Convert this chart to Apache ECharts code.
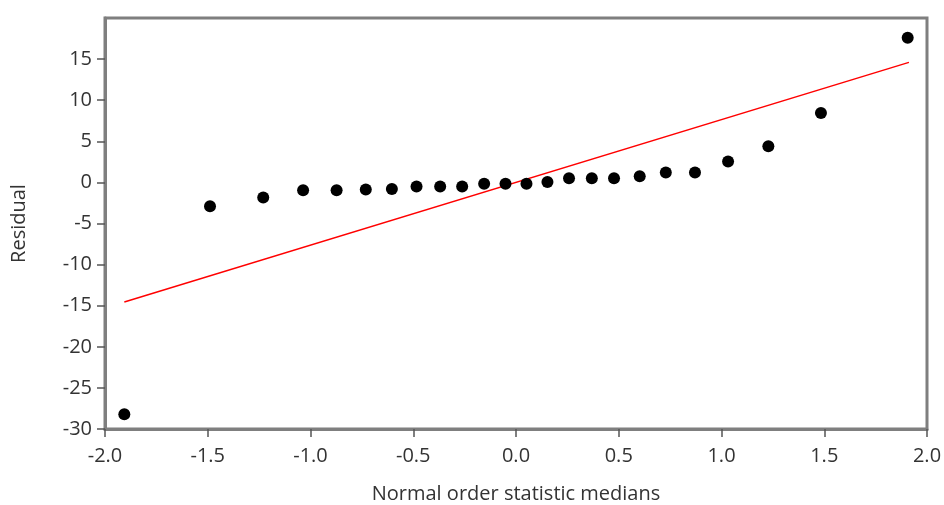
<!DOCTYPE html>
<html>
<head>
<meta charset="utf-8">
<script src="https://cdn.jsdelivr.net/npm/echarts@6/dist/echarts.min.js"></script>
<style>html,body{margin:0;padding:0;background:#fff}#c{width:944px;height:505px}</style>
</head>
<body>
<div id="c"></div>
<script>
const xMedians = [-1.906, -1.489, -1.230, -1.036, -0.873, -0.731, -0.604, -0.484, -0.369, -0.262, -0.155, -0.051,
                  0.051, 0.153, 0.258, 0.369, 0.477, 0.602, 0.729, 0.871, 1.032, 1.228, 1.484, 1.906];
const residuals = [-28.2, -2.9, -1.85, -0.95, -0.95, -0.85, -0.8, -0.5, -0.5, -0.5, -0.15, -0.15,
                   -0.15, 0.05, 0.5, 0.5, 0.5, 0.75, 1.2, 1.2, 2.55, 4.4, 8.45, 17.6];
const fitX = [-1.906, 1.912];
const fitY = [-14.55, 14.6];
const xTicks = [-2.0, -1.5, -1.0, -0.5, 0.0, 0.5, 1.0, 1.5, 2.0];
const yTicks = [-30, -25, -20, -15, -10, -5, 0, 5, 10, 15];

const font = "'Open Sans', 'Noto Sans', sans-serif";
const axisColor = '#7f7f7f';
const textColor = '#333';
const fs = 20;
const chart = echarts.init(document.getElementById('c'), null, {renderer: 'canvas'});
chart.setOption({
  animation: false,
  backgroundColor: '#fff',
  grid: {left: 105, right: 17, top: 18, bottom: 76, containLabel: false, outerBoundsMode: 'none',
    show: true, borderColor: axisColor, borderWidth: 3, backgroundColor: 'transparent'},
  xAxis: {
    type: 'value', min: -2, max: 2, interval: 0.5,
    name: 'Normal order statistic medians', nameLocation: 'middle', nameGap: 55,
    nameTextStyle: {fontFamily: font, fontSize: fs, color: textColor},
    axisLine: {show: true, onZero: false, lineStyle: {color: axisColor, width: 3}},
    axisTick: {show: true, length: 8, customValues: xTicks, lineStyle: {color: '#555', width: 1.5}},
    axisLabel: {margin: 17, fontFamily: font, fontSize: fs, color: textColor,
      customValues: xTicks, formatter: v => Number(v).toFixed(1)},
    splitLine: {show: false}
  },
  yAxis: {
    type: 'value', min: -30, max: 20, interval: 5,
    name: 'Residual', nameLocation: 'middle', nameGap: 76,
    nameTextStyle: {fontFamily: font, fontSize: fs, color: textColor},
    axisLine: {show: true, onZero: false, lineStyle: {color: axisColor, width: 3}},
    axisTick: {show: true, length: 8, customValues: yTicks, lineStyle: {color: '#555', width: 1.5}},
    axisLabel: {margin: 13, fontFamily: font, fontSize: fs, color: textColor,
      customValues: yTicks, formatter: v => String(v)},
    splitLine: {show: false}
  },
  series: [
    {
      type: 'line', data: fitX.map((x, i) => [x, fitY[i]]), symbol: 'none',
      lineStyle: {color: '#ff0000', width: 1.5}, z: 2
    },
    {
      type: 'scatter', data: xMedians.map((x, i) => [x, residuals[i]]),
      symbol: 'circle', symbolSize: 12, itemStyle: {color: '#000', opacity: 1}, z: 3
    }
  ]
});
</script>
</body>
</html>
